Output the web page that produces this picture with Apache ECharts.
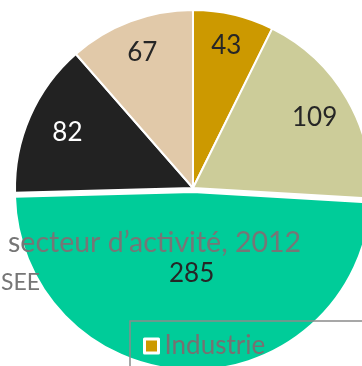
<!DOCTYPE html>
<html>
<head>
<meta charset="utf-8">
<style>
  html, body { margin: 0; padding: 0; background: #ffffff; }
  #chart { width: 362px; height: 366px; }
</style>
<script src="https://cdn.jsdelivr.net/npm/echarts@6/dist/echarts.min.js"></script>
</head>
<body>
<div id="chart"></div>
<script>
// ---- data ----
const categories = [
  "Industrie",
  "Construction",
  "Commerce, transports, hébergement et restauration",
  "Services aux entreprises",
  "Services aux particuliers"
];
const values = [43, 109, 285, 82, 67];
const titleText = "secteur d\u2019activité, 2012";
const sourceText = "SEE";

// ---- styles ----
const colors = ["#CC9900", "#CCCC99", "#00CC99", "#222222", "#E1C9A9"];
const labelColors = ["#262626", "#262626", "#262626", "#ffffff", "#262626"];
const labelRadiusRatio = [0.82, 0.79, 0.46, 0.77, 0.81];
const selectedIndex = 2;
const CX = 193, CY = 188, R = 178;
const FONT = "Lato, 'Open Sans', sans-serif";
const LEGEND_TEXT = '#767171';

const chart = echarts.init(document.getElementById('chart'), null, { renderer: 'canvas' });

const data = categories.map((name, i) => ({
  name: name,
  value: values[i],
  selected: i === selectedIndex,
  itemStyle: { color: colors[i] },
  label: { color: labelColors[i] }
}));

chart.setOption({
  animation: false,
  backgroundColor: '#ffffff',
  title: [
    {
      text: titleText,
      left: 3,
      top: 223,
      z: 10,
      textStyle: { fontFamily: FONT, fontSize: 28.5, fontWeight: 'normal', color: '#767676' }
    },
    {
      text: sourceText,
      left: -4,
      top: 266,
      z: 10,
      textStyle: { fontFamily: FONT, fontSize: 23, fontWeight: 'normal', color: '#767676' }
    }
  ],
  legend: {
    orient: 'vertical',
    left: 130,
    top: 321,
    height: 300,
    padding: [12, 13, 12, 13],
    borderColor: '#8a8a8a',
    borderWidth: 1.5,
    backgroundColor: 'transparent',
    itemWidth: 14,
    itemHeight: 14,
    itemGap: 10,
    icon: 'rect',
    selectedMode: false,
    itemStyle: { borderColor: '#ffffff', borderWidth: 3 },
    textStyle: { fontFamily: FONT, fontSize: 26, color: LEGEND_TEXT, padding: [0, 0, 0, 1] },
    data: categories.map(n => ({ name: n, textStyle: { color: LEGEND_TEXT } }))
  },
  series: [{
    type: 'pie',
    center: [CX, CY],
    radius: [0, R],
    startAngle: 90,
    clockwise: true,
    selectedMode: 'single',
    selectedOffset: 4,
    avoidLabelOverlap: false,
    itemStyle: { borderColor: '#ffffff', borderWidth: 2 },
    emphasis: { disabled: true },
    label: {
      show: true,
      position: 'inside',
      formatter: '{c}',
      fontFamily: FONT,
      fontSize: 26,
      fontWeight: 'normal'
    },
    labelLine: { show: false },
    labelLayout: function (params) {
      const r = params.labelRect;
      const lx = r.x + r.width / 2;
      const ly = r.y + r.height / 2;
      const vx = lx - CX, vy = ly - CY;
      const d = Math.sqrt(vx * vx + vy * vy) || 1;
      const target = labelRadiusRatio[params.dataIndex] * R;
      return { dx: vx / d * (target - d), dy: vy / d * (target - d) };
    },
    data: data
  }]
});
</script>
</body>
</html>
